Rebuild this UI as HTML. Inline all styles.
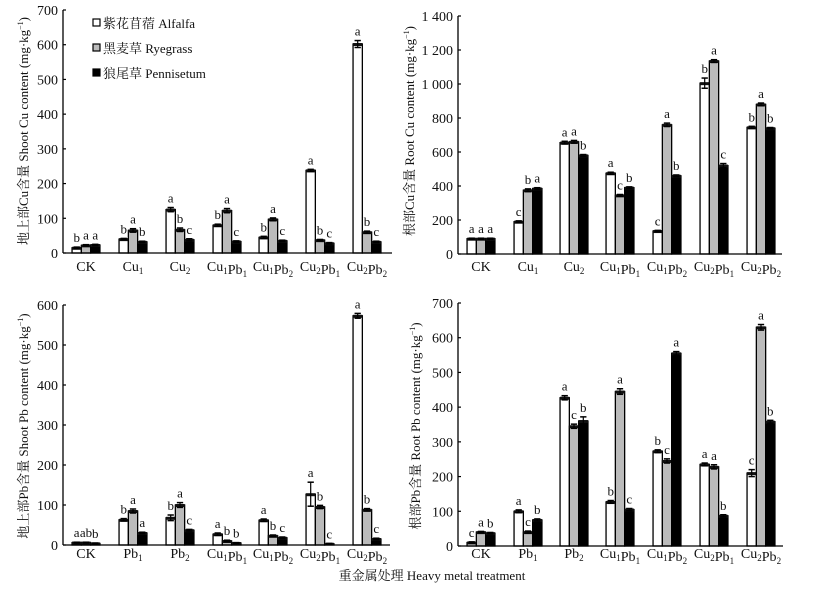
<!DOCTYPE html>
<html><head><meta charset="utf-8"><style>
html,body{margin:0;padding:0;background:#fff;}
svg{display:block;}
text{font-family:"Liberation Serif","Noto Serif CJK SC","Noto Sans CJK SC",serif;fill:#111;}
</style></head><body>
<svg id="s" width="817" height="592" viewBox="0 0 817 592" xmlns="http://www.w3.org/2000/svg">
<!-- legend -->
<rect x="93" y="19" width="7" height="7" fill="#fff" stroke="#000" stroke-width="1.2"/>
<text x="103" y="28" font-size="13">紫花苜蓿 Alfalfa</text>
<rect x="93" y="44" width="7" height="7" fill="#bbb" stroke="#000" stroke-width="1.2"/>
<text x="103" y="53" font-size="13">黑麦草 Ryegrass</text>
<rect x="93" y="69" width="7" height="7" fill="#000" stroke="#000" stroke-width="1.2"/>
<text x="103" y="78" font-size="13">狼尾草 Pennisetum</text>
<!-- y titles -->
<text transform="translate(28,131) rotate(-90)" text-anchor="middle" font-size="13">地上部Cu含量 Shoot Cu content (mg·kg<tspan font-size="8" dy="-5">−1</tspan><tspan dy="5">)</tspan></text>
<text transform="translate(414,131) rotate(-90)" text-anchor="middle" font-size="13">根部Cu含量 Root Cu content (mg·kg<tspan font-size="8" dy="-5">−1</tspan><tspan dy="5">)</tspan></text>
<text transform="translate(28,426) rotate(-90)" text-anchor="middle" font-size="13">地上部Pb含量 Shoot Pb content (mg·kg<tspan font-size="8" dy="-5">−1</tspan><tspan dy="5">)</tspan></text>
<text transform="translate(420,426) rotate(-90)" text-anchor="middle" font-size="13">根部Pb含量 Root Pb content (mg·kg<tspan font-size="8" dy="-5">−1</tspan><tspan dy="5">)</tspan></text>
<text x="432" y="580" text-anchor="middle" font-size="13">重金属处理 Heavy metal treatment</text>
</svg>
<script>
var s=document.getElementById('s'),NS='http://www.w3.org/2000/svg';
function el(t,a,txt){var e=document.createElementNS(NS,t);for(var k in a)e.setAttribute(k,a[k]);if(txt!=null)e.textContent=txt;s.appendChild(e);return e;}
function lab(x,y,base){var t=el('text',{x:x,y:y,'text-anchor':'middle','font-size':14});
 for(var i=0;i<base.length;i++){var p=base[i];var ts=document.createElementNS(NS,'tspan');ts.textContent=p[0];t.appendChild(ts);
 if(p[1]){var sb=document.createElementNS(NS,'tspan');sb.setAttribute('font-size','9');sb.setAttribute('dy','3');sb.textContent=p[1];t.appendChild(sb);var r=document.createElementNS(NS,'tspan');r.setAttribute('dy','-3');r.textContent='';t.appendChild(r);}}}
var L1=[[['CK']],[['Cu','1']],[['Cu','2']],[['Cu','1'],['Pb','1']],[['Cu','1'],['Pb','2']],[['Cu','2'],['Pb','1']],[['Cu','2'],['Pb','2']]];
var L2=[[['CK']],[['Pb','1']],[['Pb','2']],[['Cu','1'],['Pb','1']],[['Cu','1'],['Pb','2']],[['Cu','2'],['Pb','1']],[['Cu','2'],['Pb','2']]];
var P=[
{ax:63,x1:392,y0:253,ytop:10,max:700,step:100,lab:['0','100','200','300','400','500','600','700'],cx:[86,133,180,227,273,320,367],L:L1,ly:271,
 d:[[15,22,23],[40,65,32],[125,67,38],[80,122,33],[45,97,35],[238,37,28],[602,60,32]],
 e:[[2,2,2],[2,5,2],[6,5,3],[3,6,2],[3,4,2],[3,2,2],[10,3,2]],
 t:[['b','a','a'],['b','a','b'],['a','b','c'],['b','a','c'],['b','a','c'],['a','b','c'],['a','b','c']]},
{ax:458,x1:782,y0:254,ytop:16,max:1400,step:200,lab:['0','200','400','600','800','1 000','1 200','1 400'],cx:[481,528,574,620,667,714,761],L:L1,ly:271,
 d:[[90,90,90],[190,375,385],[655,660,580],[475,345,390],[135,760,460],[1005,1135,520],[745,880,740]],
 e:[[3,3,3],[5,8,5],[8,8,5],[6,5,5],[4,10,5],[30,8,12],[6,8,4]],
 t:[['a','a','a'],['c','b','a'],['a','a','b'],['a','c','b'],['c','a','b'],['b','a','c'],['b','a','b']]},
{ax:63,x1:390,y0:545,ytop:305,max:600,step:100,lab:['0','100','200','300','400','500','600'],cx:[86,133,180,227,273,320,367],L:L2,ly:558,
 d:[[6,6,4],[63,85,30],[68,100,37],[27,10,5],[62,23,18],[127,95,3],[573,88,15]],
 e:[[1,1,1],[3,5,2],[7,6,2],[3,2,1],[3,2,2],[30,4,1],[6,3,2]],
 t:[['a','ab','b'],['b','a','a'],['b','a','c'],['a','b','b'],['a','b','c'],['a','b','c'],['a','b','c']]},
{ax:458,x1:783,y0:546,ytop:303,max:700,step:100,lab:['0','100','200','300','400','500','600','700'],cx:[481,528,574,620,667,714,761],L:L2,ly:558,
 d:[[10,40,37],[100,40,75],[427,345,360],[127,445,105],[273,245,555],[235,228,87],[210,630,358]],
 e:[[2,2,2],[4,3,3],[6,6,12],[4,8,3],[4,6,5],[4,6,3],[10,8,4]],
 t:[['c','a','b'],['a','c','b'],['a','c','b'],['b','a','c'],['b','c','a'],['a','a','b'],['c','a','b']]}
];
var fills=['#fff','#bbb','#000'],bw=9.3;
P.forEach(function(p){
 var sc=(p.y0-p.ytop)/p.max;
 function Y(v){return p.y0-v*sc;}
 for(var g=0;g<7;g++){
  for(var b=0;b<3;b++){
   var x=p.cx[g]-1.5*bw+b*bw,v=p.d[g][b],y=Y(v),h=p.y0-y;
   el('rect',{x:x,y:y,width:bw,height:h,fill:fills[b],stroke:'#000','stroke-width':1.3});
   el('rect',{x:x,y:y-1,width:bw,height:Math.min(3,h+1),fill:'#111'});
   var ey=Y(v+p.e[g][b]),ey2=Y(v-p.e[g][b]);
   el('line',{x1:x+bw/2,x2:x+bw/2,y1:ey,y2:ey2,stroke:'#000','stroke-width':1.2});
   el('line',{x1:x+1.5,x2:x+bw-1.5,y1:ey,y2:ey,stroke:'#000','stroke-width':1.5});
   el('line',{x1:x+1.5,x2:x+bw-1.5,y1:ey2,y2:ey2,stroke:'#000','stroke-width':1.5});
   el('text',{x:x+bw/2,y:ey-5,'text-anchor':'middle','font-size':13},p.t[g][b]);
  }
  lab(p.cx[g],p.ly,p.L[g]);
 }
 el('line',{x1:p.ax,x2:p.ax,y1:p.ytop,y2:p.y0,stroke:'#000','stroke-width':1.3});
 el('line',{x1:p.ax,x2:p.x1,y1:p.y0,y2:p.y0,stroke:'#000','stroke-width':1.3});
 for(var i=0;i<p.lab.length;i++){var y=Y(i*p.step);
  el('line',{x1:p.ax,x2:p.ax+3,y1:y,y2:y,stroke:'#000','stroke-width':1.2});
  el('text',{x:p.ax-5,y:y+5,'text-anchor':'end','font-size':14},p.lab[i]);}
});
</script>
</body></html>
